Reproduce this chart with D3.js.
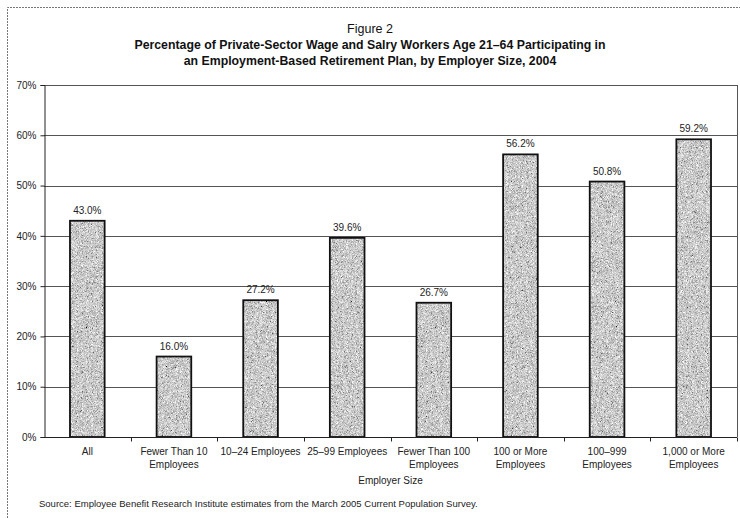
<!DOCTYPE html>
<html>
<head>
<meta charset="utf-8">
<script src="https://cdn.jsdelivr.net/npm/d3@7"></script>
<style>
  html, body { margin: 0; padding: 0; background: #fff; }
  svg { display: block; font-family: "Liberation Sans", Arial, Helvetica, sans-serif; }
</style>
</head>
<body>
<svg id="chart" width="740" height="518"></svg>
<script>
// Participation rate by employer size, 2004
const categories = [
  "All",
  "Fewer Than 10\nEmployees",
  "10–24 Employees",
  "25–99 Employees",
  "Fewer Than 100\nEmployees",
  "100 or More\nEmployees",
  "100–999\nEmployees",
  "1,000 or More\nEmployees"
];
const values = [43.0, 16.0, 27.2, 39.6, 26.7, 56.2, 50.8, 59.2];
const yTicks = [0, 10, 20, 30, 40, 50, 60, 70];

const figureLabel = "Figure 2";
const titleLines = [
  "Percentage of Private-Sector Wage and Salry Workers Age 21–64 Participating in",
  "an Employment-Based Retirement Plan, by Employer Size, 2004"
];
const xAxisTitle = "Employer Size";
const sourceNote = "Source: Employee Benefit Research Institute estimates from the March 2005 Current Population Survey.";

const svg = d3.select("#chart");
const plot = { left: 44, right: 737, top: 85, bottom: 437 };

// Fine stippled grey fill for the bars
const defs = svg.append("defs");
const f = defs.append("filter").attr("id", "grain")
  .attr("x", 0).attr("y", 0).attr("width", "100%").attr("height", "100%");
f.append("feTurbulence").attr("type", "fractalNoise").attr("baseFrequency", 2.2)
  .attr("numOctaves", 1).attr("seed", 7).attr("result", "noise");
f.append("feColorMatrix").attr("in", "noise").attr("type", "matrix")
  .attr("values", "0.33 0.33 0.33 0 0  0.33 0.33 0.33 0 0  0.33 0.33 0.33 0 0  0 0 0 0 1")
  .attr("result", "gray");
const ct = f.append("feComponentTransfer").attr("in", "gray").attr("result", "tone");
["feFuncR", "feFuncG", "feFuncB"].forEach(n =>
  ct.append(n).attr("type", "linear").attr("slope", 2.6).attr("intercept", -0.7));
f.append("feComposite").attr("in", "tone").attr("in2", "SourceGraphic").attr("operator", "in");

// Outer frame (left and top edges)
svg.append("path")
  .attr("d", "M7.5,518 L7.5,7.5 L740,7.5")
  .attr("fill", "none").attr("stroke", "#777").attr("stroke-width", 1)
  .attr("stroke-dasharray", "2,1");

// Titles
svg.append("text").attr("x", 370).attr("y", 33).attr("text-anchor", "middle")
  .attr("font-size", 12.5).attr("fill", "#111").text(figureLabel);
titleLines.forEach((t, i) => {
  svg.append("text").attr("x", 370).attr("y", 49 + i * 16).attr("text-anchor", "middle")
    .attr("font-size", 12.3).attr("font-weight", "bold").attr("fill", "#111").text(t);
});

const x = d3.scaleBand().domain(categories).range([plot.left, plot.right]).paddingInner(0.6).paddingOuter(0.3);
const y = d3.scaleLinear().domain([0, 70]).range([plot.bottom, plot.top]);

// Gridlines
svg.append("g").selectAll("line").data(yTicks.filter(d => d > 0)).join("line")
  .attr("x1", plot.left).attr("x2", plot.right)
  .attr("y1", d => Math.round(y(d)) + 0.5).attr("y2", d => Math.round(y(d)) + 0.5)
  .attr("stroke", "#555").attr("stroke-width", 1);

// Right border of plot area
svg.append("line").attr("x1", plot.right + 0.5).attr("x2", plot.right + 0.5)
  .attr("y1", plot.top).attr("y2", plot.bottom).attr("stroke", "#555");

// Y axis
const yAxis = svg.append("g").attr("transform", `translate(${plot.left + 0.5},0)`)
  .call(d3.axisLeft(y).tickValues(yTicks).tickFormat(d => d + "%").tickSize(4).tickPadding(4));
yAxis.select(".domain").attr("stroke", "#222");
yAxis.selectAll(".tick line").attr("stroke", "#222");
yAxis.selectAll("text").attr("font-size", 10).attr("fill", "#222")
  .attr("font-family", "Liberation Sans, Arial, sans-serif");

// Bars
const bars = svg.append("g");
bars.selectAll("rect.fill").data(values).join("rect").attr("class", "fill")
  .attr("x", (d, i) => x(categories[i])).attr("width", x.bandwidth())
  .attr("y", d => y(d)).attr("height", d => y(0) - y(d))
  .attr("fill", "#999").attr("filter", "url(#grain)");
bars.selectAll("rect.edge").data(values).join("rect").attr("class", "edge")
  .attr("x", (d, i) => x(categories[i])).attr("width", x.bandwidth())
  .attr("y", d => y(d)).attr("height", d => y(0) - y(d))
  .attr("fill", "none").attr("stroke", "#111").attr("stroke-width", 1.8);

// Value labels
svg.append("g").selectAll("text").data(values).join("text")
  .attr("x", (d, i) => x(categories[i]) + x.bandwidth() / 2)
  .attr("y", d => y(d) - 7)
  .attr("text-anchor", "middle").attr("font-size", 10).attr("fill", "#222")
  .text(d => d.toFixed(1) + "%");

// X axis
const xAxisG = svg.append("g").attr("transform", `translate(0,${plot.bottom + 0.5})`);
xAxisG.append("line").attr("x1", plot.left).attr("x2", plot.right)
  .attr("stroke", "#222");
const boundaries = d3.range(1, categories.length + 1).map(i => plot.left + i * (plot.right - plot.left) / categories.length);
xAxisG.selectAll("line.tk").data(boundaries).join("line").attr("class", "tk")
  .attr("x1", d => Math.round(d) + 0.5).attr("x2", d => Math.round(d) + 0.5)
  .attr("y1", 0).attr("y2", 4).attr("stroke", "#222");

const labels = svg.append("g").selectAll("text").data(categories).join("text")
  .attr("text-anchor", "middle").attr("font-size", 10).attr("fill", "#222");
labels.each(function (d) {
  const cx = x(d) + x.bandwidth() / 2;
  d3.select(this).selectAll("tspan").data(d.split("\n")).join("tspan")
    .attr("x", cx).attr("y", (t, j) => 455 + j * 13).text(t => t);
});

svg.append("text").attr("x", (plot.left + plot.right) / 2).attr("y", 484)
  .attr("text-anchor", "middle").attr("font-size", 10).attr("fill", "#222").text(xAxisTitle);

svg.append("text").attr("x", 39).attr("y", 507).attr("font-size", 9.5).attr("fill", "#222").text(sourceNote);
</script>
</body>
</html>
